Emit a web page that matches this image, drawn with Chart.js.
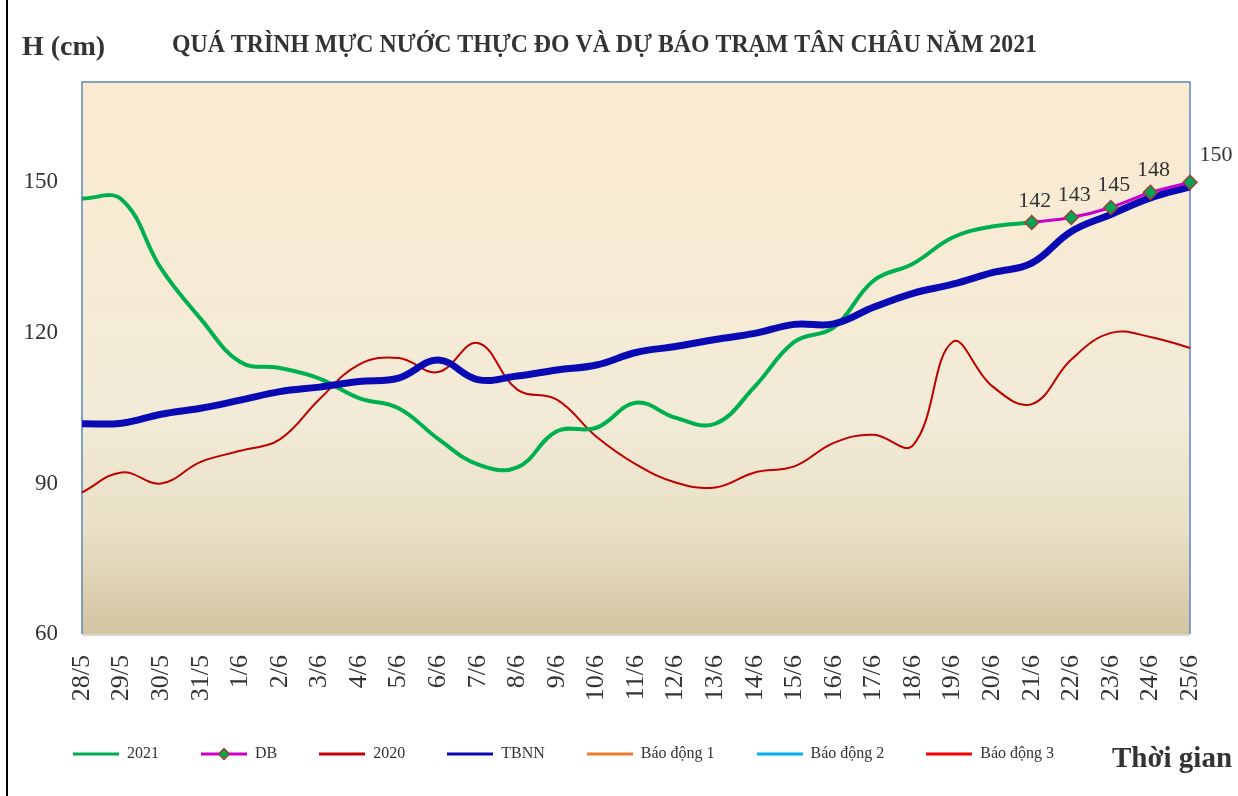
<!DOCTYPE html>
<html>
<head>
<meta charset="utf-8">
<script src="https://cdn.jsdelivr.net/npm/chart.js@4"></script>
<style>
  html, body { margin: 0; padding: 0; background: #fff; }
  #khung { width: 1238px; height: 796px; }
</style>
</head>
<body>
<div id="khung"><canvas id="muc_nuoc" width="1238" height="796"></canvas></div>
<script>
// Ngay (truc hoanh)
var ngay = ['28/5','29/5','30/5','31/5','1/6','2/6','3/6','4/6','5/6','6/6','7/6','8/6','9/6','10/6',
            '11/6','12/6','13/6','14/6','15/6','16/6','17/6','18/6','19/6','20/6','21/6','22/6','23/6','24/6','25/6'];
// Thuc do 2021
var nam_2021 = [146.8,146.6,132.8,122.8,114.2,113,110.9,107,105,98.9,93.8,93.2,100.4,101.1,
                106.1,103.1,101.9,109.3,118.2,121.1,130.4,133.8,139,141.2,142];
// Du bao
var du_bao = [null,null,null,null,null,null,null,null,null,null,null,null,null,null,
              null,null,null,null,null,null,null,null,null,null,142,143,145,148,150];
// Nam 2020
var nam_2020 = [88.2,92.2,90,94.3,96.5,98.8,106.8,113.7,115,112.2,118,108.7,106.7,99.3,
                93.8,90.2,89.2,92.2,93.4,98.1,99.7,97.6,118.2,109.4,105.8,114.7,120,119.2,117];
// Trung binh nhieu nam
var tbnn = [101.9,102,103.8,105,106.6,108.3,109.2,110.3,111,114.6,110.7,111.4,112.6,113.6,
            116.1,117.3,118.7,119.9,121.7,121.8,125.1,127.9,129.7,132,133.9,140.2,143.6,146.9,149.1];
// Bao dong (khong co diem nao trong khung ve)
var bao_dong_1 = [];
var bao_dong_2 = [];
var bao_dong_3 = [];
var moc_y = [60, 90, 120, 150];

var phong = "'Liberation Serif', 'DejaVu Serif', serif";
var mau_chu = '#333333';

// mau duong trong chu giai
function mauChuGiai(mau, coDiem){
    var c = document.createElement('canvas');
    c.width = 46; c.height = 14;
    var x = c.getContext('2d');
    x.strokeStyle = mau; x.lineWidth = 3;
    x.beginPath(); x.moveTo(0, 7); x.lineTo(46, 7); x.stroke();
    if (coDiem) {
        x.fillStyle = '#00A651'; x.strokeStyle = '#A0413C'; x.lineWidth = 1.5;
        x.beginPath(); x.moveTo(23, 1.5); x.lineTo(28.5, 7); x.lineTo(23, 12.5); x.lineTo(17.5, 7); x.closePath();
        x.fill(); x.stroke();
    }
    return c;
}

var nen = {
    id: 'nen',
    afterLayout: function(chart){
        // day chu giai sang phai
        if (chart.legend) { chart.legend.left = 31; }
    },
    beforeDraw: function(chart){
        var c = chart.ctx, a = chart.chartArea;
        c.save();
        c.fillStyle = '#ffffff';
        c.fillRect(0, 0, chart.width, chart.height);
        var g = c.createLinearGradient(0, a.top, 0, a.bottom);
        g.addColorStop(0, '#FBEBD1');
        g.addColorStop(0.6, '#F2EBD7');
        g.addColorStop(0.82, '#E8DFC5');
        g.addColorStop(1, '#D3C4A0');
        c.fillStyle = g;
        c.fillRect(a.left, a.top, a.right - a.left, a.bottom - a.top);
        // khung ngoai
        c.strokeStyle = '#000000'; c.lineWidth = 2;
        c.beginPath(); c.moveTo(7, 0); c.lineTo(7, chart.height); c.stroke();
        c.restore();
    },
    beforeDatasetsDraw: function(chart){
        var c = chart.ctx, a = chart.chartArea;
        c.save();
        c.strokeStyle = '#D9D9D9'; c.lineWidth = 2;
        c.beginPath(); c.moveTo(a.left, a.bottom + 1); c.lineTo(a.right, a.bottom + 1); c.stroke();
        c.strokeStyle = '#5B87C5'; c.lineWidth = 1.5;
        c.beginPath();
        c.moveTo(a.left, a.bottom); c.lineTo(a.left, a.top); c.lineTo(a.right, a.top); c.lineTo(a.right, a.bottom);
        c.stroke();
        c.restore();
    },
    afterDatasetsDraw: function(chart){
        var c = chart.ctx;
        var meta = chart.getDatasetMeta(1);
        c.save();
        c.font = '22px ' + phong;
        c.fillStyle = mau_chu;
        c.textAlign = 'center';
        c.textBaseline = 'alphabetic';
        meta.data.forEach(function(p, i){
            if (du_bao[i] === null) return;
            if (i === du_bao.length - 1) {
                c.fillText(du_bao[i], p.x + 26, p.y - 21);
            } else {
                c.fillText(du_bao[i], p.x + 3, p.y - 16);
            }
        });
        c.restore();
    },
    afterDraw: function(chart){
        var c = chart.ctx;
        c.save();
        c.fillStyle = mau_chu;
        c.textBaseline = 'alphabetic';
        c.font = 'bold 28px ' + phong;
        c.fillText('H (cm)', 22, 55);
        var tieuDe = 'QUÁ TRÌNH MỰC NƯỚC THỰC ĐO VÀ DỰ BÁO TRẠM TÂN CHÂU NĂM 2021';
        c.font = 'bold 26px ' + phong;
        var w = c.measureText(tieuDe).width;
        c.translate(172, 52);
        c.scale(865 / w, 1);
        c.fillText(tieuDe, 0, 0);
        c.restore();
        c.save();
        c.fillStyle = mau_chu;
        c.font = 'bold 29px ' + phong;
        c.fillText('Thời gian', 1112, 760);
        c.restore();
    }
};

var muc_nuoc = document.getElementById('muc_nuoc').getContext('2d');
var bieudo = new Chart(muc_nuoc, {
    type: 'line',
    data: {
        labels: ngay,
        datasets: [
            { label: '2021', data: nam_2021, borderColor: '#00B050', borderWidth: 4, pointRadius: 0, tension: 0.4, order: 2 },
            { label: 'DB', data: du_bao, borderColor: '#CC00CC', borderWidth: 3, pointStyle: 'rectRot', pointRadius: 7,
              pointBackgroundColor: '#00A651', pointBorderColor: '#A0413C', pointBorderWidth: 1.5, tension: 0.3, order: 0 },
            { label: '2020', data: nam_2020, borderColor: '#C00000', borderWidth: 2, pointRadius: 0, tension: 0.4, order: 3 },
            { label: 'TBNN', data: tbnn, borderColor: '#0A0AB4', borderWidth: 7, pointRadius: 0, tension: 0.4, order: 1 },
            { label: 'Báo động 1', data: bao_dong_1, borderColor: '#ED7D31', borderWidth: 2, pointRadius: 0, order: 4 },
            { label: 'Báo động 2', data: bao_dong_2, borderColor: '#00B0F0', borderWidth: 2, pointRadius: 0, order: 5 },
            { label: 'Báo động 3', data: bao_dong_3, borderColor: '#FF0000', borderWidth: 2, pointRadius: 0, order: 6 }
        ]
    },
    options: {
        responsive: false,
        animation: false,
        layout: { padding: { top: 82, right: 48, left: 0, bottom: 24 } },
        scales: {
            x: {
                grid: { display: false, drawTicks: false },
                border: { display: false },
                ticks: {
                    autoSkip: false, minRotation: 90, maxRotation: 90, padding: 21,
                    color: mau_chu, font: { family: phong, size: 26 }
                },
                afterFit: function(s){ s.height = 70; s.paddingLeft = 0; s.paddingRight = 0; }
            },
            y: {
                min: 60, max: 170,
                grid: { display: false, drawTicks: false },
                border: { display: false },
                ticks: { padding: 24, color: mau_chu, font: { family: phong, size: 23 } },
                afterBuildTicks: function(s){ s.ticks = moc_y.map(function(v){ return { value: v }; }); },
                afterFit: function(s){ s.width = 82; }
            }
        },
        plugins: {
            tooltip: { enabled: false },
            legend: {
                position: 'bottom',
                align: 'start',
                labels: {
                    usePointStyle: true,
                    pointStyleWidth: 46,
                    padding: 42,
                    color: mau_chu,
                    font: { family: phong, size: 16 },
                    generateLabels: function(chart){
                        var items = Chart.defaults.plugins.legend.labels.generateLabels(chart);
                        items.sort(function(a, b){ return a.datasetIndex - b.datasetIndex; });
                        items.forEach(function(it){
                            var ds = chart.data.datasets[it.datasetIndex];
                            it.pointStyle = mauChuGiai(ds.borderColor, ds.label === 'DB');
                            it.rotation = 0;
                        });
                        return items;
                    }
                }
            }
        }
    },
    plugins: [nen]
});
</script>
</body>
</html>
